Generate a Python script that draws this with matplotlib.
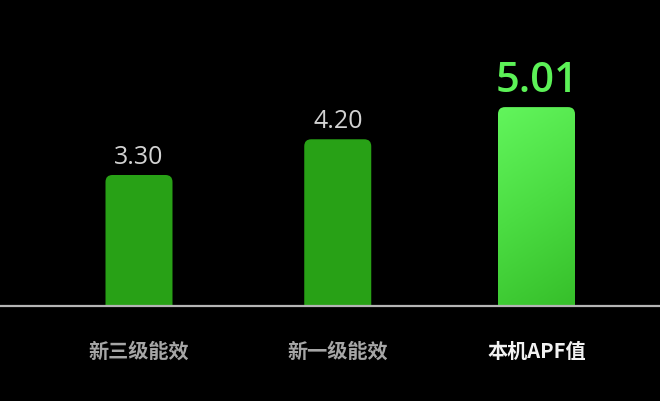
import numpy as np
import matplotlib.pyplot as plt
from matplotlib.patches import FancyBboxPatch
from matplotlib.colors import LinearSegmentedColormap

plt.rcParams['font.family'] = ['Noto Sans CJK SC', 'DejaVu Sans']

categories = ["新三级能效", "新一级能效", "本机APF值"]
values = [3.30, 4.20, 5.01]
value_labels = ["3.30", "4.20", "5.01"]

W, H = 660, 401
base_px = 306          # baseline from top
px_x = 198.75          # pixels per category step
px_y = 39.7            # pixels per unit
x0_px = 139            # first bar center

fig = plt.figure(figsize=(W / 100, H / 100), dpi=100, facecolor="black")
ax = fig.add_axes([0, (H - base_px) / H, 1, base_px / H])
ax.set_facecolor("black")
ax.set_xlim(-x0_px / px_x, (W - x0_px) / px_x)
ax.set_ylim(0, base_px / px_y)
ax.axis("off")

widths = [67 / px_x, 67 / px_x, 77 / px_x]
bar_colors = ["#28a116", "#28a116", None]
r = 7 / px_x
aspect = px_x / px_y

for i, (v, w) in enumerate(zip(values, widths)):
    patch = FancyBboxPatch((i - w / 2, -1), w, v + 1,
                           boxstyle=f"round,pad=0,rounding_size={r}",
                           mutation_aspect=aspect, linewidth=0,
                           facecolor=bar_colors[i] if bar_colors[i] else "none")
    ax.add_patch(patch)
    if bar_colors[i] is None:
        # highlighted bar: light green fading slightly toward the bottom right
        cmap = LinearSegmentedColormap.from_list("g", ["#62f55c", "#4bdc42", "#36bf2a"])
        yy, xx = np.mgrid[0:1:200j, 0:1:60j]
        grad = 0.8 * yy + 0.2 * xx
        im = ax.imshow(grad, cmap=cmap, extent=(i - w / 2, i + w / 2, 0, v),
                       origin="upper", aspect="auto", zorder=2)
        im.set_clip_path(patch)

# value labels
for i, (v, t) in enumerate(zip(values, value_labels)):
    if i == 2:
        ax.text(i, v + 15 / px_y, t, ha="center", va="baseline", color="#5cf257",
                fontsize=30, fontweight="semibold", family=["Open Sans", "DejaVu Sans"])
    else:
        ax.text(i, v + 11 / px_y, t, ha="center", va="baseline", color="#d2d2d2",
                fontsize=18, family=["Open Sans", "DejaVu Sans"])

# baseline
fig.add_artist(plt.Line2D([0, 1], [(H - base_px) / H] * 2, color="#b5b5b5", lw=1.6))

# category labels
for i, c in enumerate(categories):
    xf = (x0_px + i * px_x) / W
    if i == 2:
        fig.text(xf, (H - 351) / H, c, ha="center", va="center", color="#f2f2f2",
                 fontsize=14.5, fontweight="bold")
    else:
        fig.text(xf, (H - 351) / H, c, ha="center", va="center", color="#a6a6a6",
                 fontsize=14.5, fontweight="bold")

fig.savefig("out.png", dpi=100, facecolor="black")
